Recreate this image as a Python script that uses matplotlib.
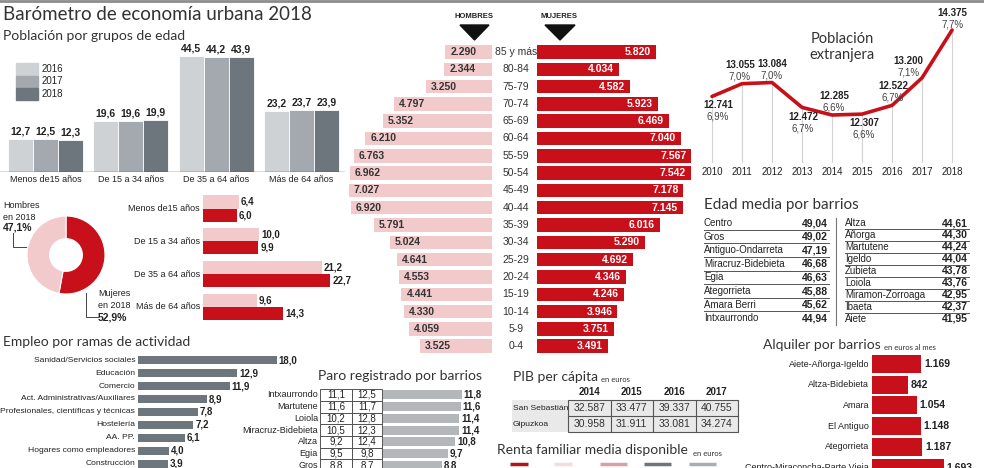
import numpy as np
import matplotlib
matplotlib.use("Agg")
import matplotlib.pyplot as plt
from matplotlib.patches import Polygon, Rectangle
from matplotlib.transforms import blended_transform_factory
from matplotlib import font_manager

# ---- datos ----
grupos = ['Menos de15 años', 'De 15 a 34 años', 'De 35 a 64 años', 'Más de 64 años']
pob_2016 = [12.7, 19.6, 44.5, 23.2]
pob_2017 = [12.5, 19.6, 44.2, 23.7]
pob_2018 = [12.3, 19.9, 43.9, 23.9]
anios_leyenda = ['2016', '2017', '2018']

sexo_pct = [52.9, 47.1]  # mujeres, hombres
hombres_grupo = [6.4, 10.0, 21.2, 9.6]
mujeres_grupo = [6.0, 9.9, 22.7, 14.3]

edades = ['85 y más', '80-84', '75-79', '70-74', '65-69', '60-64', '55-59', '50-54', '45-49',
          '40-44', '35-39', '30-34', '25-29', '20-24', '15-19', '10-14', '5-9', '0-4']
hombres_edad = [2290, 2344, 3250, 4797, 5352, 6210, 6763, 6962, 7027,
                6920, 5791, 5024, 4641, 4553, 4441, 4330, 4059, 3525]
mujeres_edad = [5820, 4034, 4582, 5923, 6469, 7040, 7567, 7542, 7178,
                7145, 6016, 5290, 4692, 4346, 4246, 3946, 3751, 3491]

anios = [2010, 2011, 2012, 2013, 2014, 2015, 2016, 2017, 2018]
extranjeros = [12741, 13055, 13084, 12472, 12285, 12307, 12522, 13200, 14375]
extranjeros_pct = [6.9, 7.0, 7.0, 6.7, 6.6, 6.6, 6.7, 7.1, 7.7]

barrios_izq = ['Centro', 'Gros', 'Antiguo-Ondarreta', 'Miracruz-Bidebieta', 'Egia',
               'Ategorrieta', 'Amara Berri', 'Intxaurrondo']
edad_izq = [49.04, 49.02, 47.19, 46.68, 46.63, 45.88, 45.62, 44.94]
barrios_der = ['Altza', 'Añorga', 'Martutene', 'Igeldo', 'Zubieta', 'Loiola',
               'Miramon-Zorroaga', 'Ibaeta', 'Aiete']
edad_der = [44.61, 44.30, 44.24, 44.04, 43.78, 43.76, 42.95, 42.37, 41.95]

ramas = ['Sanidad/Servicios sociales', 'Educación', 'Comercio', 'Act. Administrativas/Auxiliares',
         'Profesionales, científicas y técnicas', 'Hostelería', 'AA. PP.',
         'Hogares como empleadores', 'Construcción']
empleo = [18.0, 12.9, 11.9, 8.9, 7.8, 7.2, 6.1, 4.0, 3.9]

paro_barrios = ['Intxaurrondo', 'Martutene', 'Loiola', 'Miracruz-Bidebieta', 'Altza', 'Egia', 'Gros']
paro_a = [11.1, 11.6, 10.2, 10.5, 9.2, 9.5, 8.8]
paro_b = [12.5, 11.7, 12.8, 12.3, 12.4, 9.8, 8.7]
paro_total = [11.8, 11.6, 11.4, 11.4, 10.8, 9.7, 8.8]

pib_anios = ['2014', '2015', '2016', '2017']
pib_filas = ['San Sebastián', 'Gipuzkoa']
pib_ss = [32587, 33477, 39337, 40755]
pib_gip = [30958, 31911, 33081, 34274]

alq_barrios = ['Aiete-Añorga-Igeldo', 'Altza-Bidebieta', 'Amara', 'El Antiguo', 'Ategorrieta',
               'Centro-Miraconcha-Parte Vieja']
alquiler = [1169, 842, 1054, 1148, 1187, 1693]

# ---- estilo ----
RED = '#c8101a'
PINK = '#f3cacc'
G16, G17, G18 = '#cfd2d5', '#a3a9ae', '#6e767d'
TXT = '#222222'
installed = {f.name for f in font_manager.fontManager.ttflist}
NARROW = [f for f in ['Liberation Sans Narrow', 'DejaVu Sans Condensed', 'Liberation Sans']
          if f in installed] + ['DejaVu Sans']
LIGHT = ['Lato', 'DejaVu Sans']
plt.rcParams['font.family'] = NARROW

W, H = 984, 468
fig = plt.figure(figsize=(W / 100, H / 100), dpi=100)
bg = fig.add_axes([0, 0, 1, 1])
bg.set_xlim(0, W)
bg.set_ylim(H, 0)
bg.axis('off')


def box(x0, y0, x1, y1, xlim, ylim):
    ax = fig.add_axes([x0 / W, 1 - y1 / H, (x1 - x0) / W, (y1 - y0) / H])
    ax.set_xlim(*xlim)
    ax.set_ylim(*ylim)
    ax.axis('off')
    return ax


def head(x, y, s, size):
    bg.text(x, y, s, fontsize=size, family=LIGHT, va='center', color='#333333')


def small(x, y, s):
    bg.text(x, y, s, fontsize=5.5, family=LIGHT, va='center', color='#333333')


def es(v, d=1):
    return f'{v:.{d}f}'.replace('.', ',')


def miles(v):
    return f'{v:,}'.replace(',', '.')


bg.plot([0, W], [1, 1], color='#8c8c8c', lw=2)

# ---- Población por grupos de edad ----
head(3, 14, 'Barómetro de economía urbana 2018', 13.5)
head(3, 36, 'Población por grupos de edad', 10)

ax1 = box(0, 40, 345, 172, (-0.533, 3.51), (0, 132 / 2.61))
xg = np.arange(len(grupos))
bw = 0.293
for k, (vals, c) in enumerate(zip([pob_2016, pob_2017, pob_2018], [G16, G17, G18])):
    xs = xg + (k - 1) * bw
    ax1.bar(xs, vals, width=bw, color=c, edgecolor='white', linewidth=0.6)
    for xi, v in zip(xs, vals):
        ax1.text(xi, v + 1.0, es(v), ha='center', va='bottom', fontsize=7.5, fontweight='bold', color=TXT)
ax1.axhline(0, color='#444444', lw=1)
for i, g in enumerate(grupos):
    ax1.text(i, -8 / 2.61, g, ha='center', va='center', fontsize=6.5, color=TXT)

for k, (lab, c) in enumerate(zip(anios_leyenda, [G16, G17, G18])):
    bg.add_patch(Rectangle((16, 63 + 12.5 * k), 22, 11.5, color=c))
    bg.text(42, 69 + 12.5 * k, lab, va='center', fontsize=7, color=TXT)

# ---- donut ----
axd = fig.add_axes([27 / W, 1 - 294 / H, 78 / W, 78 / H])
axd.pie(sexo_pct, colors=[RED, PINK], startangle=90, counterclock=False,
        wedgeprops=dict(width=0.58, edgecolor='white', linewidth=0.8))
axd.set_xlim(-1, 1)
axd.set_ylim(-1, 1)
axd.set_aspect('equal')
bg.text(3, 205, 'Hombres', fontsize=6.5, va='center', color=TXT)
bg.text(3, 217, 'en 2018', fontsize=6.5, va='center', color=TXT)
bg.text(3, 228, es(sexo_pct[1]) + '%', fontsize=7.5, fontweight='bold', va='center', color=TXT)
bg.plot([13, 13, 28], [233, 247, 247], color='#444444', lw=0.7)
bg.text(98, 293, 'Mujeres', fontsize=6.5, va='center', color=TXT)
bg.text(98, 305, 'en 2018', fontsize=6.5, va='center', color=TXT)
bg.text(98, 318, es(sexo_pct[0]) + '%', fontsize=7.5, fontweight='bold', va='center', color=TXT)
bg.plot([86, 86, 98], [293, 317, 317], color='#444444', lw=0.7)

# ---- barras hombres / mujeres por grupo ----
axs = box(203, 192, 360, 324, (0, 157 / 5.6), (3.52, -0.503))
ys = np.arange(len(grupos))
axs.barh(ys - 0.2, hombres_grupo, height=0.4, color=PINK)
axs.barh(ys + 0.2, mujeres_grupo, height=0.4, color=RED)
for y, h, m in zip(ys, hombres_grupo, mujeres_grupo):
    axs.text(h + 0.4, y - 0.2, es(h), va='center', fontsize=7, fontweight='bold', color=TXT)
    axs.text(m + 0.4, y + 0.2, es(m), va='center', fontsize=7, fontweight='bold', color=TXT)
trs = blended_transform_factory(bg.transData, axs.transData)
for y, g in zip(ys, grupos):
    bg.text(200, y, g, transform=trs, ha='right', va='center', fontsize=6.5, color=TXT)

# ---- pirámide ----
PX = 20.4 / 1000
ylim_p = (17.51, -0.69)
axh = box(340, 40, 492, 355, (152 / PX, 0), ylim_p)
axm = box(537, 40, 700, 355, (0, 163 / PX), ylim_p)
yp = np.arange(len(edades))
axh.barh(yp, hombres_edad, height=0.78, color=PINK)
axm.barh(yp, mujeres_edad, height=0.78, color=RED)
for y, h, m in zip(yp, hombres_edad, mujeres_edad):
    axh.text(h - 5 / PX, y, miles(h), ha='left', va='center', fontsize=7.5, fontweight='bold', color='#333333')
    axm.text(m - 5 / PX, y, miles(m), ha='right', va='center', fontsize=7.5, fontweight='bold', color='white')
trp = blended_transform_factory(bg.transData, axm.transData)
for y, e in zip(yp, edades):
    bg.text(516, y, e, transform=trp, ha='center', va='center', fontsize=7.5, color='#333333')
bg.text(474, 17, 'HOMBRES', ha='center', va='center', fontsize=5.5, fontweight='bold', color=TXT)
bg.text(559, 17, 'MUJERES', ha='center', va='center', fontsize=5.5, fontweight='bold', color=TXT)
bg.add_patch(Polygon([[460, 25], [489, 25], [474.5, 40]], color='#111111'))
bg.add_patch(Polygon([[545, 25], [575, 25], [560, 40]], color='#111111'))

# ---- población extranjera ----
PY = 0.04067
axl = box(700, 5, 965, 163, (2009.6, 2018.43), (11105, 14990))
axl.vlines(anios, 11105, extranjeros, color='#d3d3d3', lw=0.8, zorder=1)
axl.plot(anios, extranjeros, color=RED, lw=2.6, solid_joinstyle='round', solid_capstyle='round', zorder=3)
offs = [(6, -9), (-2, 19), (0, 19), (1, -10), (2, 19), (2, -9), (1, 19), (-14, 17), (0, 17)]
for yr, v, p, (dx, dy) in zip(anios, extranjeros, extranjeros_pct, offs):
    axl.annotate(miles(v), (yr, v), xytext=(dx, dy), textcoords='offset pixels',
                 ha='center', va='center', fontsize=7, fontweight='bold', color=TXT)
    axl.annotate(es(p) + '%', (yr, v), xytext=(dx, dy - 11.5), textcoords='offset pixels',
                 ha='center', va='center', fontsize=7, color='#444444')
    axl.text(yr, 11105 - 9 / PY, str(yr), ha='center', va='center', fontsize=7, color=TXT)
bg.text(842, 47, 'Población\nextranjera', ha='center', va='center', fontsize=10.5, family=LIGHT,
        color='#333333', linespacing=1.2)

# ---- edad media por barrios ----
head(704, 205, 'Edad media por barrios', 11)
for i, (b, v) in enumerate(zip(barrios_izq, edad_izq)):
    y = 223 + 13.6 * i
    bg.text(704, y, b, va='center', fontsize=7, color=TXT)
    bg.text(828, y, es(v, 2), va='center', ha='right', fontsize=7.5, fontweight='bold', color=TXT)
    if i < len(barrios_izq) - 1:
        bg.plot([704, 829], [y + 6.8, y + 6.8], color='#555555', lw=0.7)
for i, (b, v) in enumerate(zip(barrios_der, edad_der)):
    y = 223 + 11.95 * i
    bg.text(845, y, b, va='center', fontsize=7, color=TXT)
    bg.text(968, y, es(v, 2), va='center', ha='right', fontsize=7.5, fontweight='bold', color=TXT)
    if i < len(barrios_der) - 1:
        bg.plot([845, 969], [y + 6, y + 6], color='#555555', lw=0.7)
bg.plot([836, 836], [218, 325], color='#777777', lw=0.8)

# ---- empleo ----
head(3, 342, 'Empleo por ramas de actividad', 10)
axe = box(138, 353, 300, 468, (0, 162 / 7.7), (8.31, -0.54))
ye = np.arange(len(ramas))
axe.barh(ye, empleo, height=0.62, color=G18)
for y, v in zip(ye, empleo):
    axe.text(v + 0.25, y, es(v), va='center', fontsize=7, fontweight='bold', color=TXT)
tre = blended_transform_factory(bg.transData, axe.transData)
for y, r in zip(ye, ramas):
    bg.text(135, y, r, transform=tre, ha='right', va='center', fontsize=6.1, color=TXT)

# ---- paro registrado ----
head(318, 376, 'Paro registrado por barrios', 10)
axp = box(383, 389, 480, 468, (0, 97 / 6.7), (6.24, -0.51))
yq = np.arange(len(paro_barrios))
axp.barh(yq, paro_total, height=0.77, color='#b4b7ba')
for y, v in zip(yq, paro_total):
    axp.text(v + 0.25, y, es(v), va='center', fontsize=7, fontweight='bold', color=TXT)
trq = blended_transform_factory(bg.transData, axp.transData)
for y, b, a, c in zip(yq, paro_barrios, paro_a, paro_b):
    bg.text(318, y, b, transform=trq, ha='right', va='center', fontsize=6.5, color=TXT)
    bg.text(336, y, es(a), transform=trq, ha='center', va='center', fontsize=7, color=TXT)
    bg.text(367, y, es(c), transform=trq, ha='center', va='center', fontsize=7, color=TXT)
for i in range(len(paro_barrios)):
    top = 389.2 + 11.7 * i
    bg.add_patch(Rectangle((320, top), 32, 11.7, fill=False, edgecolor='#555555', lw=0.7))
    bg.add_patch(Rectangle((352, top), 30, 11.7, fill=False, edgecolor='#555555', lw=0.7))

# ---- PIB per cápita ----
head(513, 377, 'PIB per cápita', 10)
small(601, 379, 'en euros')
cw = 42.5
for k, a in enumerate(pib_anios):
    bg.text(568 + cw * (k + 0.5), 392, a, ha='center', va='center', fontsize=7, fontweight='bold', color=TXT)
for r, (fila, vals) in enumerate(zip(pib_filas, [pib_ss, pib_gip])):
    top = 400 + 16 * r
    bg.add_patch(Rectangle((512, top), 226, 16, color='#e9e9e9', lw=0))
    bg.text(513, top + 8, fila, va='center', fontsize=6.1, color=TXT)
    for k, v in enumerate(vals):
        bg.text(568 + cw * (k + 0.5), top + 8, miles(v), ha='center', va='center', fontsize=7.5, color='#333333')
bg.add_patch(Rectangle((568, 400), 4 * cw, 32, fill=False, edgecolor='#555555', lw=0.8))
bg.plot([568, 568 + 4 * cw], [416, 416], color='#555555', lw=0.8)
for k in range(1, 4):
    bg.plot([568 + cw * k] * 2, [400, 432], color='#555555', lw=0.8)

# ---- renta familiar ----
head(497, 450, 'Renta familiar media disponible', 10)
small(693, 453, 'en euros')
for (x0, x1), c in zip([(510, 528), (554, 572), (600, 627), (644, 671), (689, 716)],
                       ['#b5121b', '#f5dcdc', '#dba0a4', '#6e767d', '#a8adb1']):
    bg.plot([x0, x1], [464, 464], color=c, lw=2.5, solid_capstyle='butt')

# ---- alquiler ----
head(763, 345, 'Alquiler por barrios', 10)
small(884, 348, 'en euros al mes')
PA = 0.0423
axa = box(872, 352, 984, 468, (0, 112 / PA), (5.02, -0.58))
ya = np.arange(len(alq_barrios))
axa.barh(ya, alquiler, height=0.87, color=RED)
for y, v in zip(ya, alquiler):
    axa.text(v + 3 / PA, y, miles(v), va='center', fontsize=7.5, fontweight='bold', color=TXT)
tra = blended_transform_factory(bg.transData, axa.transData)
for y, b in zip(ya, alq_barrios):
    bg.text(869, y, b, transform=tra, ha='right', va='center', fontsize=6.5, color=TXT)

fig.savefig('out.png', dpi=100)
